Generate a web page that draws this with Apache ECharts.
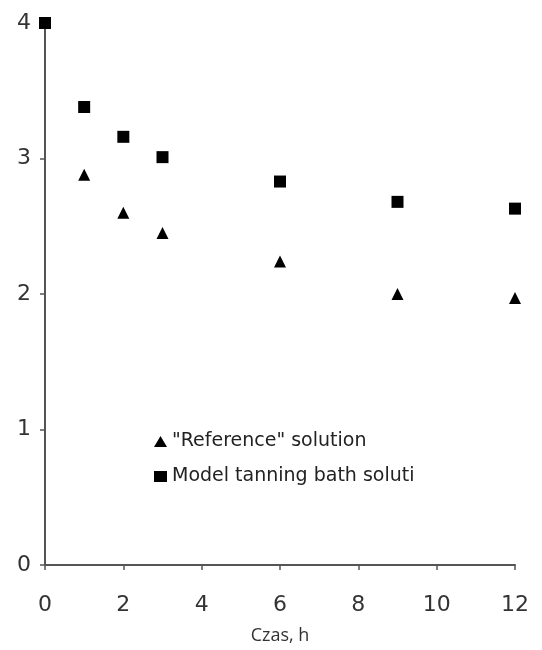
<!DOCTYPE html>
<html>
<head>
<meta charset="utf-8">
<script src="https://cdn.jsdelivr.net/npm/echarts@6/dist/echarts.min.js"></script>
<style>html,body{margin:0;padding:0;background:#fff;}#c{width:542px;height:650px;}</style>
</head>
<body>
<div id="c"></div>
<script>
const hours = [0, 1, 2, 3, 6, 9, 12];
const referenceValues = [4.0, 2.88, 2.60, 2.45, 2.24, 2.00, 1.97];
const modelValues = [4.0, 3.38, 3.16, 3.01, 2.83, 2.68, 2.63];
const seriesNames = ['"Reference" solution', 'Model tanning bath solution'];
const xTicks = [0, 2, 4, 6, 8, 10, 12];
const yTicks = [0, 1, 2, 3, 4];

const refData = hours.map((h, i) => [h, referenceValues[i]]);
const modelData = hours.map((h, i) => [h, modelValues[i]]);

const chart = echarts.init(document.getElementById('c'), null, {renderer: 'canvas'});
const axisCommon = {
  axisLine: {show: true, lineStyle: {color: '#555', width: 2}},
  axisTick: {show: true, length: 5, lineStyle: {color: '#555', width: 1.5}},
  splitLine: {show: false},
};
chart.setOption({
  animation: false,
  backgroundColor: '#fff',
  grid: {left: 45, right: 27, top: 23, bottom: 80, containLabel: false},
  xAxis: Object.assign({
    type: 'value', min: xTicks[0], max: xTicks[xTicks.length - 1], interval: 2,
    name: 'Czas, h', nameLocation: 'middle', nameGap: 62,
    nameTextStyle: {fontFamily: 'Open Sans', fontSize: 18, color: '#333'},
    axisLabel: {margin: 29, fontFamily: 'DejaVu Sans', fontSize: 22, color: '#333'}
  }, axisCommon),
  yAxis: Object.assign({
    type: 'value', min: yTicks[0], max: yTicks[yTicks.length - 1], interval: 1,
    axisLabel: {margin: 14, fontFamily: 'DejaVu Sans', fontSize: 22, color: '#333'}
  }, axisCommon),
  legend: {
    orient: 'vertical', left: 149, top: 427, itemGap: 16,
    itemWidth: 13, itemHeight: 11,
    textStyle: {fontFamily: 'DejaVu Sans', fontSize: 19, color: '#222', width: 252, overflow: 'truncate', ellipsis: ''},
    data: [{name: seriesNames[0], icon: 'triangle'}, {name: seriesNames[1], icon: 'rect'}]
  },
  series: [
    {name: seriesNames[0], type: 'scatter', symbol: 'triangle', symbolSize: 12, data: refData, itemStyle: {color: '#000', opacity: 1}, z: 3},
    {name: seriesNames[1], type: 'scatter', symbol: 'rect', symbolSize: 12, data: modelData, itemStyle: {color: '#000', opacity: 1}, z: 4}
  ]
});
</script>
</body>
</html>
